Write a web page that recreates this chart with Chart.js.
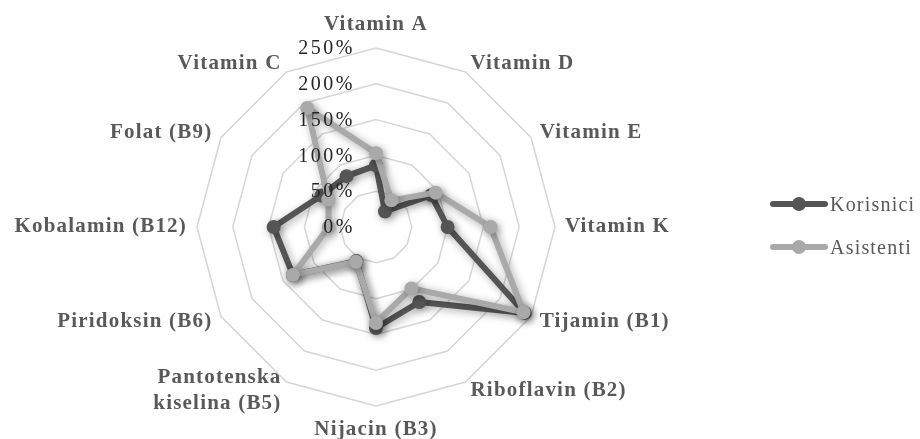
<!DOCTYPE html>
<html>
<head>
<meta charset="utf-8">
<script src="https://cdn.jsdelivr.net/npm/chart.js@4.4.1/dist/chart.umd.min.js"></script>
<style>
html,body{margin:0;padding:0;background:#fff;}
#wrap{position:relative;width:920px;height:439px;overflow:hidden;}
#c{position:absolute;left:0;top:0;}
.leg{position:absolute;left:770px;height:24px;font:20px "Liberation Serif",serif;letter-spacing:1.2px;color:#595959;display:flex;align-items:center;white-space:nowrap;}
.leg .ln{position:relative;width:58px;height:6px;border-radius:3px;margin-right:2px;}
.leg .dot{position:absolute;left:22px;top:-4px;width:14px;height:14px;border-radius:50%;}
</style>
</head>
<body>
<div id="wrap">
<canvas id="c" width="920" height="439"></canvas>
<div id="legend"></div>
</div>
<script>
// ---- data ----
const categories = [
  'Vitamin A', 'Vitamin D', 'Vitamin E', 'Vitamin K', 'Tijamin (B1)', 'Riboflavin (B2)',
  'Nijacin (B3)', ['Pantotenska', 'kiselina (B5)'], 'Piridoksin (B6)', 'Kobalamin (B12)',
  'Folat (B9)', 'Vitamin C'
];
const korisnici = [86, 25, 89, 100, 240, 121, 141, 55, 134, 143, 88, 82];
const asistenti = [103, 43, 96, 160, 238, 99, 134, 56, 134, 66, 77, 192];
const tickValues = [0, 50, 100, 150, 200, 250];
const tickLabels = ['0%', '50%', '100%', '150%', '200%', '250%'];
const seriesNames = ['Korisnici', 'Asistenti'];

// ---- styles ----
const seriesColors = ['#555555', '#a9a9a9'];
const CX = 376, CY = 227, R = 179, LABEL_PAD = 10;

const shadowPlugin = {
  id: 'shadow',
  beforeDatasetDraw(chart) {
    const ctx = chart.ctx;
    ctx.save();
    ctx.shadowColor = 'rgba(0,0,0,0.35)';
    ctx.shadowBlur = 8;
    ctx.shadowOffsetX = 2;
    ctx.shadowOffsetY = 2;
  },
  afterDatasetDraw(chart) {
    chart.ctx.restore();
  }
};

const spacingPlugin = {
  id: 'spacing',
  beforeDraw(chart) {
    chart.ctx.letterSpacing = '1.2px';
  }
};

const tickPlugin = {
  id: 'tickText',
  afterDatasetsDraw(chart) {
    const s = chart.scales.r;
    const ctx = chart.ctx;
    ctx.save();
    ctx.font = '20px "Liberation Serif", serif';
    ctx.letterSpacing = '2.5px';
    ctx.fillStyle = '#262626';
    ctx.textAlign = 'right';
    ctx.textBaseline = 'middle';
    tickValues.forEach((v, i) => {
      const d = s.getDistanceFromCenterForValue(v);
      ctx.fillText(tickLabels[i], s.xCenter - 21, s.yCenter - d + 1);
    });
    ctx.restore();
  }
};

function placeScale(scale) {
  scale.xCenter = CX;
  scale.yCenter = CY;
  scale.drawingArea = R;
  const labels = scale._pointLabels;
  if (!labels) return;
  const ctx = scale.ctx;
  const font = Chart.helpers.toFont(scale.options.pointLabels.font);
  ctx.save();
  ctx.font = font.string;
  ctx.letterSpacing = '1.2px';
  const n = labels.length;
  const items = labels.map((lab, i) => {
    const lines = Array.isArray(lab) ? lab : [lab];
    const w = Math.max(...lines.map(t => ctx.measureText(t).width));
    const h = lines.length * font.lineHeight;
    const p = scale.getPointPosition(i, R + LABEL_PAD);
    const deg = Math.round(i * 360 / n) % 360;
    let textAlign, y;
    if (deg === 0) { textAlign = 'center'; y = p.y - h; }
    else if (deg === 180) { textAlign = 'center'; y = p.y; }
    else { textAlign = deg < 180 ? 'left' : 'right'; y = p.y - h / 2; }
    const left = textAlign === 'center' ? p.x - w / 2 : (textAlign === 'left' ? p.x : p.x - w);
    return { visible: true, x: p.x, y: y, textAlign: textAlign, left: left, top: y, right: left + w, bottom: y + h };
  });
  ctx.restore();
  scale._pointLabelItems = items;
}

const chart = new Chart(document.getElementById('c'), {
  type: 'radar',
  data: {
    labels: categories,
    datasets: [
      {
        label: seriesNames[0], data: korisnici, order: 1,
        borderColor: seriesColors[0], backgroundColor: seriesColors[0],
        pointBackgroundColor: seriesColors[0], pointBorderColor: seriesColors[0],
        borderWidth: 6, pointRadius: 7, pointBorderWidth: 0, fill: false
      },
      {
        label: seriesNames[1], data: asistenti, order: 0,
        borderColor: seriesColors[1], backgroundColor: seriesColors[1],
        pointBackgroundColor: seriesColors[1], pointBorderColor: seriesColors[1],
        borderWidth: 6, pointRadius: 7, pointBorderWidth: 0, fill: false
      }
    ]
  },
  options: {
    responsive: false,
    animation: false,
    devicePixelRatio: 1,
    layout: { padding: 0 },
    elements: { line: { tension: 0, borderJoinStyle: 'round', borderCapStyle: 'round' } },
    plugins: { legend: { display: false }, tooltip: { enabled: false } },
    scales: {
      r: {
        min: 0, max: 250,
        ticks: { stepSize: 50, display: false },
        grid: { color: '#d6d6d6', lineWidth: 1.5 },
        angleLines: { display: false },
        pointLabels: {
          display: true,
          color: '#595959',
          font: { family: '"Liberation Serif", serif', size: 21, weight: 'bold', lineHeight: 1.27 }
        },
        afterFit: placeScale
      }
    }
  },
  plugins: [spacingPlugin, shadowPlugin, tickPlugin]
});

// ---- legend (HTML) ----
const legendEl = document.getElementById('legend');
const legendY = [204, 247];
seriesNames.forEach((name, i) => {
  const d = document.createElement('div');
  d.className = 'leg';
  d.style.top = (legendY[i] - 12) + 'px';
  const ln = document.createElement('span');
  ln.className = 'ln';
  ln.style.background = seriesColors[i];
  const dot = document.createElement('span');
  dot.className = 'dot';
  dot.style.background = seriesColors[i];
  ln.appendChild(dot);
  d.appendChild(ln);
  d.appendChild(document.createTextNode(name));
  legendEl.appendChild(d);
});
</script>
</body>
</html>
